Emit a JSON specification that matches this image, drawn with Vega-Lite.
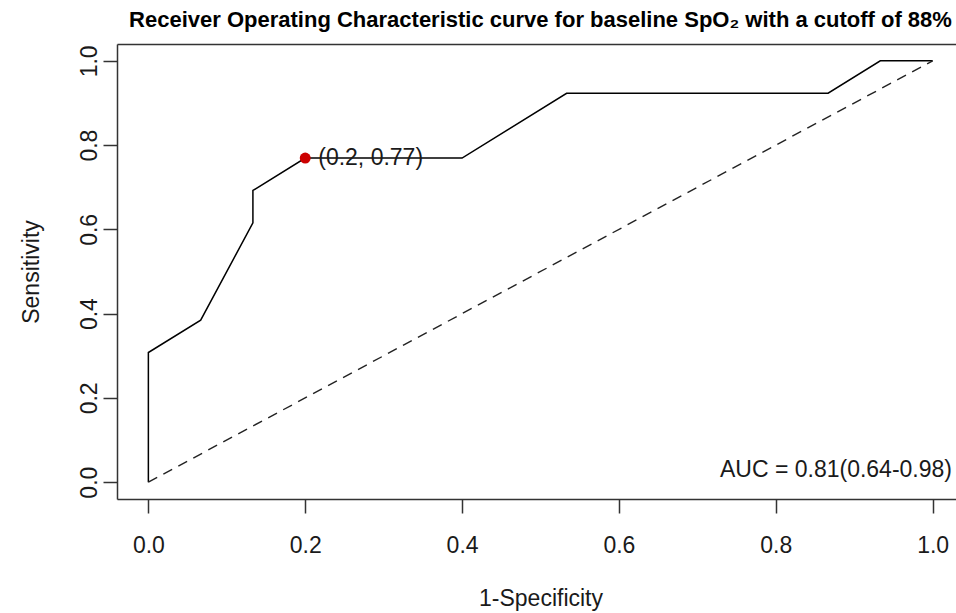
{
  "$schema": "https://vega.github.io/schema/vega-lite/v6.json",
  "width": 839,
  "height": 455,
  "autosize": {"type": "none"},
  "padding": {"left": 117, "top": 44, "right": 0, "bottom": 114},
  "background": "white",
  "config": {"view": {"stroke": null}, "font": "Liberation Sans"},
  "title": {
    "text": "Receiver Operating Characteristic curve for baseline SpO₂ with a cutoff of 88%",
    "font": "Liberation Sans",
    "fontSize": 22,
    "fontWeight": "bold",
    "color": "#000000",
    "anchor": "middle",
    "frame": "group",
    "dx": 4,
    "offset": 12
  },
  "resolve": {"axis": {"x": "independent"}},
  "layer": [
    {
      "data": {"values": [
        {"i": 0, "fpr": 0.0, "tpr": 0.0},
        {"i": 1, "fpr": 0.0, "tpr": 0.3077},
        {"i": 2, "fpr": 0.0667, "tpr": 0.3846},
        {"i": 3, "fpr": 0.1333, "tpr": 0.6154},
        {"i": 4, "fpr": 0.1333, "tpr": 0.6923},
        {"i": 5, "fpr": 0.2, "tpr": 0.7692},
        {"i": 6, "fpr": 0.4, "tpr": 0.7692},
        {"i": 7, "fpr": 0.5333, "tpr": 0.9231},
        {"i": 8, "fpr": 0.8667, "tpr": 0.9231},
        {"i": 9, "fpr": 0.9333, "tpr": 1.0},
        {"i": 10, "fpr": 1.0, "tpr": 1.0}
      ]},
      "mark": {"type": "line", "color": "#000000", "strokeWidth": 1.5},
      "encoding": {
        "x": {
          "field": "fpr", "type": "quantitative",
          "scale": {"domain": [-0.04, 1.0298], "nice": false, "zero": false},
          "axis": {
            "orient": "bottom",
            "values": [0, 0.2, 0.4, 0.6, 0.8, 1.0],
            "format": ".1f",
            "grid": false,
            "domain": true, "domainColor": "#333333", "domainWidth": 1.5,
            "ticks": true, "tickColor": "#333333", "tickWidth": 1.5, "tickSize": 14,
            "labelFont": "Liberation Sans", "labelFontSize": 23, "labelColor": "#1a1a1a",
            "labelPadding": 21, "labelBaseline": "top", "labelFlush": false,
            "title": "1-Specificity",
            "titleFont": "Liberation Sans", "titleFontSize": 23, "titleFontWeight": "normal", "titleColor": "#1a1a1a",
            "titleX": 423.5, "titleY": 99, "titleBaseline": "middle", "titleAlign": "center"
          }
        },
        "y": {
          "field": "tpr", "type": "quantitative",
          "scale": {"domain": [-0.04, 1.04], "nice": false, "zero": false},
          "axis": {
            "orient": "left",
            "values": [0, 0.2, 0.4, 0.6, 0.8, 1.0],
            "format": ".1f",
            "grid": false,
            "domain": true, "domainColor": "#333333", "domainWidth": 1.5,
            "ticks": true, "tickColor": "#333333", "tickWidth": 1.5, "tickSize": 14,
            "labelFont": "Liberation Sans", "labelFontSize": 23, "labelColor": "#1a1a1a",
            "labelAngle": -90, "labelAlign": "center", "labelBaseline": "alphabetic",
            "labelPadding": 7, "labelFlush": false,
            "title": "Sensitivity",
            "titleFont": "Liberation Sans", "titleFontSize": 23, "titleFontWeight": "normal", "titleColor": "#1a1a1a",
            "titleAngle": -90, "titleX": -86, "titleY": 227.5, "titleBaseline": "middle", "titleAlign": "center"
          }
        },
        "order": {"field": "i", "type": "quantitative"}
      }
    },
    {
      "data": {"values": [
        {"fpr": 0.0, "tpr": 0.0},
        {"fpr": 1.0, "tpr": 1.0}
      ]},
      "mark": {"type": "line", "color": "#222222", "strokeWidth": 1.4, "strokeDash": [10, 7]},
      "encoding": {
        "x": {
          "field": "fpr", "type": "quantitative",
          "axis": {
            "orient": "top", "labels": false, "ticks": false, "grid": false,
            "domain": true, "domainColor": "#333333", "domainWidth": 1.5, "title": null
          }
        },
        "y": {"field": "tpr", "type": "quantitative"}
      }
    },
    {
      "data": {"values": [{"fpr": 0.2, "tpr": 0.7692, "lab": "(0.2, 0.77)"}]},
      "mark": {"type": "point", "filled": true, "color": "#cc0000", "opacity": 1, "size": 120},
      "encoding": {
        "x": {"field": "fpr", "type": "quantitative", "axis": null},
        "y": {"field": "tpr", "type": "quantitative"}
      }
    },
    {
      "data": {"values": [{"fpr": 0.2, "tpr": 0.7692, "lab": "(0.2, 0.77)"}]},
      "mark": {"type": "text", "align": "left", "baseline": "middle", "dx": 13, "font": "Liberation Sans", "fontSize": 23, "color": "#1a1a1a"},
      "encoding": {
        "x": {"field": "fpr", "type": "quantitative", "axis": null},
        "y": {"field": "tpr", "type": "quantitative"},
        "text": {"field": "lab", "type": "nominal"}
      }
    },
    {
      "data": {"values": [{"fpr": 1.0298, "tpr": 0.028, "lab": "AUC = 0.81(0.64-0.98)"}]},
      "mark": {"type": "text", "align": "right", "baseline": "middle", "dx": -4, "font": "Liberation Sans", "fontSize": 23, "color": "#1a1a1a"},
      "encoding": {
        "x": {"field": "fpr", "type": "quantitative", "axis": null},
        "y": {"field": "tpr", "type": "quantitative"},
        "text": {"field": "lab", "type": "nominal"}
      }
    }
  ]
}
